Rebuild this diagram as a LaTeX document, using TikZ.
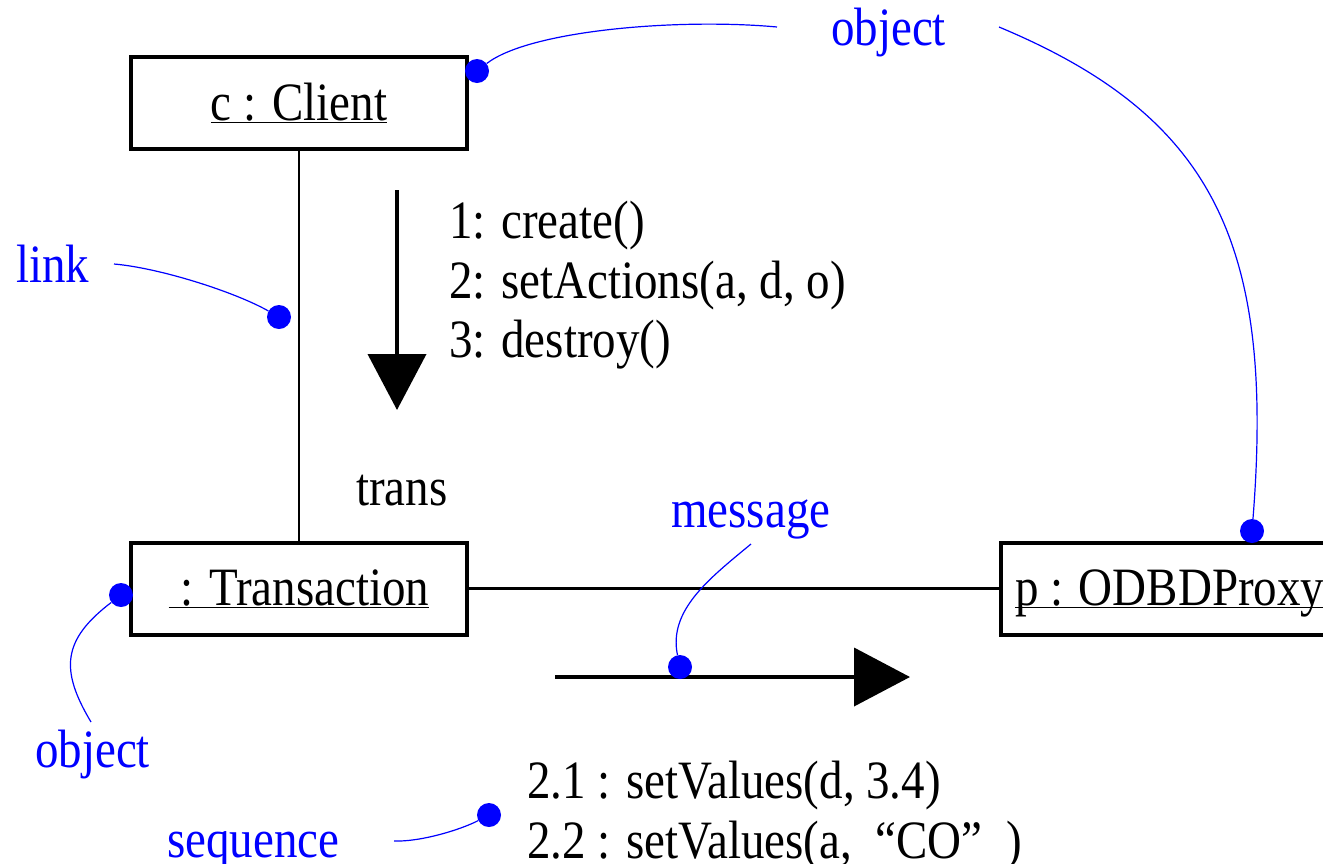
\documentclass[tikz,border=0pt]{standalone}
\usepackage{fontspec}
\setmainfont[FakeStretch=0.87]{Liberation Serif}
\usepackage{xcolor}
\usetikzlibrary{arrows.meta}
\newcommand{\ulname}[1]{\underline{\raisebox{0pt}[\height][0pt]{#1}}}

\begin{document}
\begin{tikzpicture}[x=1pt,y=-1pt,
  every node/.style={font=\fontsize{54}{60}\selectfont},
  obj/.style={draw,line width=4pt,minimum width=336pt,minimum height=92pt,inner sep=0pt},
  link/.style={line width=2.5pt},
  msgarrow/.style={line width=4pt,-{Triangle[length=56pt,width=58pt]}},
  note/.style={blue,line width=1.2pt},
  dot/.style={circle,fill=blue,inner sep=0pt,minimum size=24pt},
  blabel/.style={text=blue,anchor=base west,inner sep=0pt},
  mtext/.style={anchor=base west,inner sep=0pt}]
%
\useasboundingbox (0,0) rectangle (1323,863);
\clip (0,0) rectangle (1323,863);
%
\node (client) at (299,103) [obj] {\ulname{c : Client}};
\node (trans) at (299,588.5) [obj] {\ulname{~: Transaction}};
\node (proxy) at (999,588.5) [obj,anchor=west,inner xsep=14pt] {\ulname{p : ODBDProxy}};
%
\draw[link] (client) -- (trans);
\draw[link] (trans) -- (proxy);
%
\coordinate (dn1) at (397,190);
\coordinate (dn2) at (397,410);
\draw[msgarrow] (dn1) -- (dn2);
\node (m1) at (449,238) [mtext] {1: create()};
\node (m2) at (449,298) [mtext] {2: setActions(a, d, o)};
\node (m3) at (449,357) [mtext] {3: destroy()};
\node (role) at (356,505) [mtext] {trans};
%
\coordinate (rt1) at (555,677);
\coordinate (rt2) at (910,677);
\draw[msgarrow] (rt1) -- (rt2);
\node (s1) at (527,798) [mtext] {2.1 : setValues(d, 3.4)};
\node (s2) at (527,858) [mtext] {2.2 : setValues(a, \ “CO” \ )};
%
\node (objtop) at (831,45) [blabel] {object};
\node (lnk) at (16,282) [blabel] {link};
\node (objleft) at (35,767) [blabel] {object};
\node (msg) at (671,527) [blabel] {message};
\node (seq) at (167,857) [blabel] {sequence};
%
\node (d1) at (477,71) [dot] {};
\node (d2) at (1252,531) [dot] {};
\node (d3) at (279,317) [dot] {};
\node (d4) at (121,595) [dot] {};
\node (d5) at (680,667) [dot] {};
\node (d6) at (489,815) [dot] {};
%
\coordinate (c1) at (777,27);
\coordinate (c2) at (999,27);
\coordinate (c3) at (114,264);
\coordinate (c4) at (91,722);
\coordinate (c5) at (751,544);
\coordinate (c6) at (394,841);
%
\draw[note] (c1) .. controls (680,18) and (530,30) .. (d1);
\draw[note] (c2) .. controls (1212,116) and (1275,242) .. (d2);
\draw[note] (c3) .. controls (160,268) and (235,292) .. (d3);
\draw[note] (c4) .. controls (60,670) and (62,640) .. (d4);
\draw[note] (c5) .. controls (710,578) and (668,610) .. (d5);
\draw[note] (c6) .. controls (420,842) and (460,830) .. (d6);
\end{tikzpicture}
\end{document}
